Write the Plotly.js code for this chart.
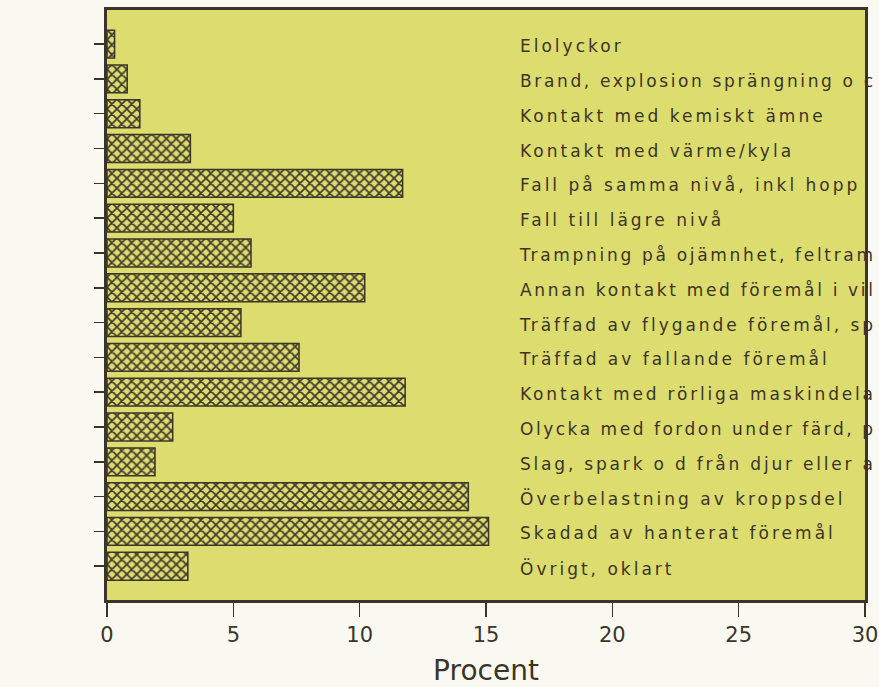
<!DOCTYPE html>
<html>
<head>
<meta charset="utf-8">
<script src="https://cdn.plot.ly/plotly-3.0.1.min.js"></script>
<style>
html,body{margin:0;padding:0;background:#faf9f1;overflow:hidden;}
#chart{width:879px;height:687px;}
</style>
</head>
<body>
<div id="chart"></div>
<script>
const categories = [
  "Elolyckor",
  "Brand, explosion sprängning o c",
  "Kontakt med kemiskt ämne",
  "Kontakt med värme/kyla",
  "Fall på samma nivå, inkl hopp",
  "Fall till lägre nivå",
  "Trampning på ojämnhet, feltram",
  "Annan kontakt med föremål i vil",
  "Träffad av flygande föremål, sp",
  "Träffad av fallande föremål",
  "Kontakt med rörliga maskindela",
  "Olycka med fordon under färd, p",
  "Slag, spark o d från djur eller a",
  "Överbelastning av kroppsdel",
  "Skadad av hanterat föremål",
  "Övrigt, oklart"
];
const procent = [0.3, 0.8, 1.3, 3.3, 11.7, 5.0, 5.7, 10.2, 5.3, 7.6, 11.8, 2.6, 1.9, 14.3, 15.1, 3.2];
const xTicks = [0, 5, 10, 15, 20, 25, 30];
const xTitle = "Procent";

const ink = "#3b3529";
const yellow = "#dddc6e";

const trace = {
  type: "bar",
  orientation: "h",
  y: categories,
  x: procent,
  width: 0.8,
  marker: {
    color: yellow,
    line: {color: ink, width: 1.5},
    pattern: {shape: "x", fgcolor: "#3f3a2c", bgcolor: yellow, size: 7, solidity: 0.42, fillmode: "replace"}
  },
  hoverinfo: "none"
};

const annotations = categories.map(c => ({
  x: 16.25, y: c, xref: "x", yref: "y",
  text: c, showarrow: false, xanchor: "left", yanchor: "middle",
  font: {family: "DejaVu Sans, sans-serif", size: 17, color: ink},
  yshift: -2
}));

const layout = {
  width: 879, height: 687,
  margin: {l: 107, r: 14, t: 10, b: 87},
  paper_bgcolor: "#faf9f1",
  plot_bgcolor: yellow,
  showlegend: false,
  bargap: 0.2,
  xaxis: {
    range: [0, 30],
    tickvals: xTicks,
    ticktext: xTicks.map(String),
    ticks: "outside", ticklen: 14, tickwidth: 1.5, tickcolor: ink,
    showline: true, linewidth: 3, linecolor: ink, mirror: true,
    showgrid: false, zeroline: false,
    tickfont: {family: "DejaVu Sans, sans-serif", size: 21, color: ink},
    title: {text: xTitle, font: {family: "DejaVu Sans, sans-serif", size: 28, color: ink}, standoff: 16}
  },
  yaxis: {
    type: "category",
    categoryorder: "array",
    categoryarray: categories,
    range: [15.97, -0.98],
    autorange: false,
    showticklabels: false,
    ticks: "outside", ticklen: 10, tickwidth: 1.5, tickcolor: ink,
    showline: true, linewidth: 3, linecolor: ink, mirror: true,
    showgrid: false, zeroline: false
  },
  annotations: annotations
};

Plotly.newPlot("chart", [trace], layout, {displayModeBar: false, staticPlot: true}).then(() => {
  const limit = 876;
  document.querySelectorAll("#chart .annotation-text").forEach(t => {
    const bb = t.getBBox();
    const ctm = t.getCTM();
    const left = bb.x;
    t.setAttribute("text-anchor", "start");
    t.setAttribute("x", left);
    let ls = 3;
    t.style.letterSpacing = ls + "px";
    const n = (t.textContent || "").length;
    const b2 = t.getBBox();
    const rightPage = ctm.e + (b2.x + b2.width);
    if (rightPage > limit && n > 1) {
      ls = Math.max(0, ls - (rightPage - limit) / (n - 1));
      t.style.letterSpacing = ls + "px";
    }
  });
});
</script>
</body>
</html>
